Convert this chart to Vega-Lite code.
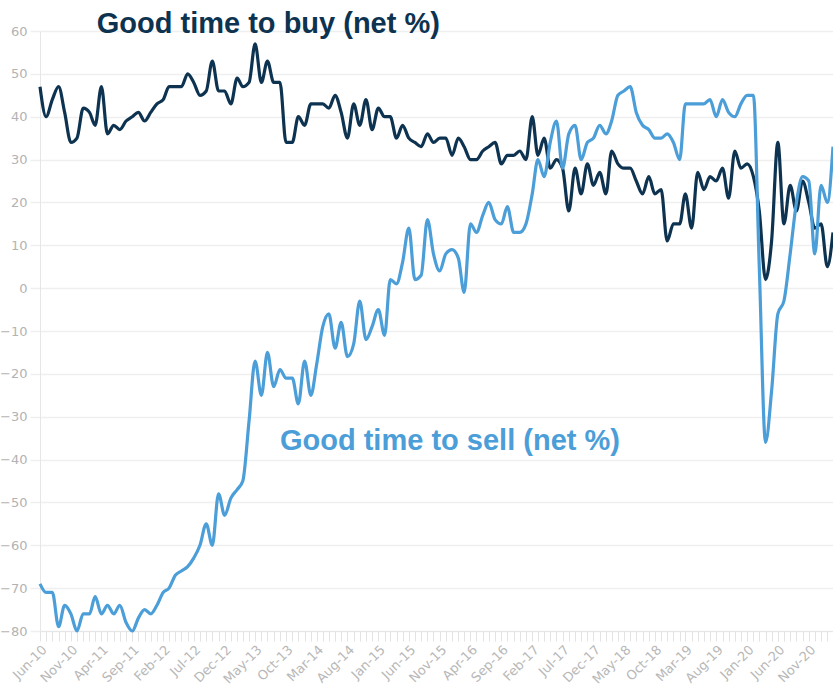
{
  "$schema": "https://vega.github.io/schema/vega-lite/v6.json",
  "width": 793,
  "height": 600,
  "autosize": {"type": "none"},
  "padding": {"left": 40, "top": 31, "right": 0, "bottom": 67},
  "background": "white",
  "config": {"view": {"stroke": null}, "font": "DejaVu Sans"},
  "datasets": {
    "survey": [
      {"date":"2010-06-01","buy":47,"sell":-69},
      {"date":"2010-07-01","buy":40,"sell":-71},
      {"date":"2010-08-01","buy":44,"sell":-71},
      {"date":"2010-09-01","buy":47,"sell":-79},
      {"date":"2010-10-01","buy":41,"sell":-74},
      {"date":"2010-11-01","buy":34,"sell":-76},
      {"date":"2010-12-01","buy":35,"sell":-80},
      {"date":"2011-01-01","buy":42,"sell":-76},
      {"date":"2011-02-01","buy":41,"sell":-76},
      {"date":"2011-03-01","buy":38,"sell":-72},
      {"date":"2011-04-01","buy":47,"sell":-76},
      {"date":"2011-05-01","buy":36,"sell":-74},
      {"date":"2011-06-01","buy":38,"sell":-76},
      {"date":"2011-07-01","buy":37,"sell":-74},
      {"date":"2011-08-01","buy":39,"sell":-78},
      {"date":"2011-09-01","buy":40,"sell":-80},
      {"date":"2011-10-01","buy":41,"sell":-77},
      {"date":"2011-11-01","buy":39,"sell":-75},
      {"date":"2011-12-01","buy":41,"sell":-76},
      {"date":"2012-01-01","buy":43,"sell":-74},
      {"date":"2012-02-01","buy":44,"sell":-71},
      {"date":"2012-03-01","buy":47,"sell":-70},
      {"date":"2012-04-01","buy":47,"sell":-67},
      {"date":"2012-05-01","buy":47,"sell":-66},
      {"date":"2012-06-01","buy":50,"sell":-65},
      {"date":"2012-07-01","buy":48,"sell":-63},
      {"date":"2012-08-01","buy":45,"sell":-60},
      {"date":"2012-09-01","buy":46,"sell":-55},
      {"date":"2012-10-01","buy":53,"sell":-60},
      {"date":"2012-11-01","buy":46,"sell":-48},
      {"date":"2012-12-01","buy":46,"sell":-53},
      {"date":"2013-01-01","buy":43,"sell":-49},
      {"date":"2013-02-01","buy":49,"sell":-47},
      {"date":"2013-03-01","buy":47,"sell":-45},
      {"date":"2013-04-01","buy":48,"sell":-31},
      {"date":"2013-05-01","buy":57,"sell":-17},
      {"date":"2013-06-01","buy":48,"sell":-25},
      {"date":"2013-07-01","buy":53,"sell":-15},
      {"date":"2013-08-01","buy":48,"sell":-23},
      {"date":"2013-09-01","buy":48,"sell":-19},
      {"date":"2013-10-01","buy":34,"sell":-21},
      {"date":"2013-11-01","buy":34,"sell":-21},
      {"date":"2013-12-01","buy":40,"sell":-27},
      {"date":"2014-01-01","buy":38,"sell":-17},
      {"date":"2014-02-01","buy":43,"sell":-25},
      {"date":"2014-03-01","buy":43,"sell":-18},
      {"date":"2014-04-01","buy":43,"sell":-9},
      {"date":"2014-05-01","buy":42,"sell":-6},
      {"date":"2014-06-01","buy":45,"sell":-14},
      {"date":"2014-07-01","buy":41,"sell":-8},
      {"date":"2014-08-01","buy":35,"sell":-16},
      {"date":"2014-09-01","buy":43,"sell":-13},
      {"date":"2014-10-01","buy":38,"sell":-3},
      {"date":"2014-11-01","buy":44,"sell":-12},
      {"date":"2014-12-01","buy":37,"sell":-9},
      {"date":"2015-01-01","buy":42,"sell":-5},
      {"date":"2015-02-01","buy":40,"sell":-11},
      {"date":"2015-03-01","buy":40,"sell":2},
      {"date":"2015-04-01","buy":35,"sell":1},
      {"date":"2015-05-01","buy":38,"sell":6},
      {"date":"2015-06-01","buy":35,"sell":14},
      {"date":"2015-07-01","buy":34,"sell":2},
      {"date":"2015-08-01","buy":33,"sell":3},
      {"date":"2015-09-01","buy":36,"sell":16},
      {"date":"2015-10-01","buy":34,"sell":8},
      {"date":"2015-11-01","buy":35,"sell":4},
      {"date":"2015-12-01","buy":35,"sell":8},
      {"date":"2016-01-01","buy":31,"sell":9},
      {"date":"2016-02-01","buy":35,"sell":7},
      {"date":"2016-03-01","buy":33,"sell":-1},
      {"date":"2016-04-01","buy":30,"sell":15},
      {"date":"2016-05-01","buy":30,"sell":13},
      {"date":"2016-06-01","buy":32,"sell":17},
      {"date":"2016-07-01","buy":33,"sell":20},
      {"date":"2016-08-01","buy":34,"sell":16},
      {"date":"2016-09-01","buy":29,"sell":15},
      {"date":"2016-10-01","buy":31,"sell":19},
      {"date":"2016-11-01","buy":31,"sell":13},
      {"date":"2016-12-01","buy":32,"sell":13},
      {"date":"2017-01-01","buy":30,"sell":15},
      {"date":"2017-02-01","buy":40,"sell":22},
      {"date":"2017-03-01","buy":31,"sell":30},
      {"date":"2017-04-01","buy":35,"sell":26},
      {"date":"2017-05-01","buy":28,"sell":34},
      {"date":"2017-06-01","buy":30,"sell":39},
      {"date":"2017-07-01","buy":28,"sell":28},
      {"date":"2017-08-01","buy":18,"sell":36},
      {"date":"2017-09-01","buy":28,"sell":38},
      {"date":"2017-10-01","buy":22,"sell":30},
      {"date":"2017-11-01","buy":29,"sell":34},
      {"date":"2017-12-01","buy":24,"sell":35},
      {"date":"2018-01-01","buy":27,"sell":38},
      {"date":"2018-02-01","buy":22,"sell":36},
      {"date":"2018-03-01","buy":32,"sell":39},
      {"date":"2018-04-01","buy":29,"sell":45},
      {"date":"2018-05-01","buy":28,"sell":46},
      {"date":"2018-06-01","buy":28,"sell":47},
      {"date":"2018-07-01","buy":25,"sell":41},
      {"date":"2018-08-01","buy":22,"sell":38},
      {"date":"2018-09-01","buy":26,"sell":37},
      {"date":"2018-10-01","buy":22,"sell":35},
      {"date":"2018-11-01","buy":23,"sell":35},
      {"date":"2018-12-01","buy":11,"sell":36},
      {"date":"2019-01-01","buy":15,"sell":34},
      {"date":"2019-02-01","buy":15,"sell":30},
      {"date":"2019-03-01","buy":22,"sell":43},
      {"date":"2019-04-01","buy":14,"sell":43},
      {"date":"2019-05-01","buy":27,"sell":43},
      {"date":"2019-06-01","buy":23,"sell":43},
      {"date":"2019-07-01","buy":26,"sell":44},
      {"date":"2019-08-01","buy":25,"sell":40},
      {"date":"2019-09-01","buy":28,"sell":44},
      {"date":"2019-10-01","buy":21,"sell":41},
      {"date":"2019-11-01","buy":32,"sell":40},
      {"date":"2019-12-01","buy":28,"sell":43},
      {"date":"2020-01-01","buy":29,"sell":45},
      {"date":"2020-02-01","buy":26,"sell":45},
      {"date":"2020-03-01","buy":18,"sell":5},
      {"date":"2020-04-01","buy":2,"sell":-36},
      {"date":"2020-05-01","buy":11,"sell":-24},
      {"date":"2020-06-01","buy":34,"sell":-6},
      {"date":"2020-07-01","buy":15,"sell":-3},
      {"date":"2020-08-01","buy":24,"sell":8},
      {"date":"2020-09-01","buy":18,"sell":20},
      {"date":"2020-10-01","buy":25,"sell":26},
      {"date":"2020-11-01","buy":20,"sell":25},
      {"date":"2020-12-01","buy":14,"sell":8},
      {"date":"2021-01-01","buy":15,"sell":24},
      {"date":"2021-02-01","buy":5,"sell":20},
      {"date":"2021-03-01","buy":13,"sell":33}
    ],
    "labels": [
      {"date":"2011-03-09","value":59.5,"series":"buy","label":"Good time to buy (net %)"},
      {"date":"2013-09-01","value":-37.8,"series":"sell","label":"Good time to sell (net %)"}
    ]
  },
  "layer": [
    {
      "data": {"name": "survey"},
      "transform": [{"fold": ["buy", "sell"], "as": ["series", "value"]}],
      "mark": {"type": "line", "strokeWidth": 3.2, "interpolate": "monotone", "clip": false},
      "encoding": {
        "x": {
          "field": "date", "type": "temporal",
          "scale": {"type": "utc", "nice": false},
          "axis": {
            "title": null,
            "grid": false,
            "tickCount": {"interval": "month", "step": 1},
            "labelExpr": "((utcyear(datum.value) - 2010) * 12 + utcmonth(datum.value) - 5) % 5 == 0 ? utcFormat(datum.value, '%b-%y') : ''",
            "labelAngle": -45,
            "labelOverlap": false,
            "labelFlush": false,
            "labelColor": "#b8b8b8",
            "labelFontSize": 13,
            "labelPadding": 2,
            "tickColor": "#e3e3e3",
            "tickSize": 10,
            "domainColor": "#e6e6e6"
          }
        },
        "y": {
          "field": "value", "type": "quantitative",
          "scale": {"domain": [-80, 60], "nice": false, "zero": false},
          "axis": {
            "title": null,
            "values": [-80, -70, -60, -50, -40, -30, -20, -10, 0, 10, 20, 30, 40, 50, 60],
            "grid": true,
            "gridColor": "#efefef",
            "gridWidth": 1.5,
            "domainColor": "#e6e6e6",
            "tickColor": "#efefef",
            "tickWidth": 1.5,
            "tickSize": 10,
            "labelColor": "#b3b3b3",
            "labelFontSize": 13,
            "labelPadding": 3
          }
        },
        "color": {
          "field": "series", "type": "nominal",
          "scale": {"domain": ["buy", "sell"], "range": ["#0d3350", "#4b9ed8"]},
          "legend": null
        }
      }
    },
    {
      "data": {"name": "labels"},
      "mark": {"type": "text", "align": "left", "baseline": "alphabetic", "fontSize": 29, "fontWeight": "bold", "font": "Liberation Sans"},
      "encoding": {
        "x": {"field": "date", "type": "temporal"},
        "y": {"field": "value", "type": "quantitative"},
        "text": {"field": "label"},
        "color": {"field": "series", "type": "nominal"}
      }
    }
  ]
}
